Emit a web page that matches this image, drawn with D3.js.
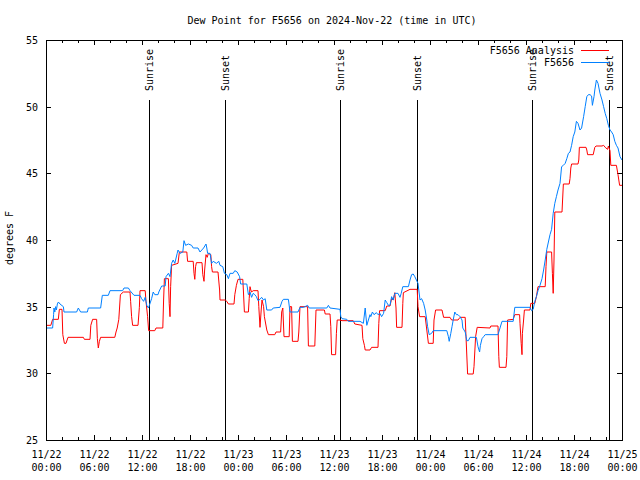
<!DOCTYPE html>
<html>
<head>
<meta charset="utf-8">
<script src="https://cdn.jsdelivr.net/npm/d3@7"></script>
<style>
  html, body { margin: 0; padding: 0; background: #fff; }
  svg { display: block; }
  text { font-family: "DejaVu Sans Mono", monospace; font-size: 10px; fill: #000; }
</style>
</head>
<body>
<svg id="chart" width="640" height="480"></svg>
<script>
// ---------------- data ----------------
const title = "Dew Point for F5656 on 2024-Nov-22 (time in UTC)";
const yLabel = "degrees F";
const seriesNames = ["F5656 Analysis", "F5656"];
const startUTC = Date.UTC(2024, 10, 22, 0, 0);
const spanHours = 72;
const yTickValues = [25, 30, 35, 40, 45, 50, 55];

// hours after 2024-11-22 00:00 UTC
const sunEventHours = [12.92, 22.42, 36.79, 46.42, 60.8, 70.42];
const sunEventNames = ["Sunrise", "Sunset", "Sunrise", "Sunset", "Sunrise", "Sunset"];

// F5656 Analysis (red)
const analysisHours = [0.0,0.6,0.83,1.54,1.67,2.0,2.1,2.3,2.5,2.75,4.67,4.8,5.5,5.6,5.83,6.33,6.42,6.54,6.67,6.83,8.6,8.75,8.9,9.1,9.3,9.67,10.5,10.58,10.7,10.83,11.5,11.67,11.75,12.4,12.5,12.7,12.83,13.6,13.75,14.6,14.7,14.8,15.3,15.4,15.5,15.58,15.7,16.5,16.67,17.6,17.7,18.4,18.5,18.6,18.7,18.8,19.5,19.6,19.75,19.83,20.0,20.15,20.3,20.6,20.7,20.8,21.5,21.7,21.75,22.4,22.6,22.8,23.5,23.6,23.8,24.0,24.6,24.67,24.8,25.3,25.4,25.5,25.6,25.7,25.9,26.5,26.6,26.75,26.9,27.0,27.2,27.3,27.6,27.8,28.6,28.75,29.33,29.46,29.6,29.75,30.4,30.5,30.7,30.8,31.5,31.6,31.75,32.7,32.8,33.6,33.75,34.8,34.9,35.5,35.6,35.7,36.2,36.3,36.4,36.75,37.0,38.4,38.6,39.5,39.6,39.8,39.9,40.5,40.7,41.5,41.6,41.7,42.4,42.6,43.0,43.2,43.4,43.6,43.75,43.83,44.5,44.6,44.67,45.5,46.4,46.5,46.7,47.4,47.6,47.8,48.4,48.5,48.7,49.5,49.7,50.5,50.7,51.5,51.75,52.4,52.5,52.7,53.4,53.5,53.7,53.9,55.5,55.6,56.5,56.6,56.67,57.5,57.6,57.7,58.4,58.6,59.2,59.25,59.4,59.5,59.55,59.7,59.8,60.5,60.6,61.1,61.3,61.5,62.4,62.5,62.6,63.2,63.3,63.4,63.5,63.6,64.5,64.67,65.4,65.5,65.6,65.7,66.5,66.6,66.67,67.5,67.6,67.7,68.4,68.6,68.75,69.5,69.7,69.9,70.2,70.3,70.5,70.6,71.3,71.5,71.7,72.0];
const analysisValues = [33.6,33.6,34.05,34.05,34.8,34.8,32.9,32.25,32.25,32.7,32.7,32.55,32.55,33.6,34.05,34.05,32.6,31.9,32.4,32.7,32.7,33.1,33.4,34.05,35.9,36.1,36.1,35.4,34.25,33.6,33.6,34.95,36.2,36.2,35.4,34.25,33.2,33.2,33.4,33.4,35.5,37.1,37.1,35.25,34.25,36.5,38.1,38.25,39.1,39.1,38.4,38.4,37.5,37.05,38.0,38.3,38.3,37.4,36.9,37.75,38.9,38.7,39.0,38.9,38.0,37.6,37.6,36.25,35.5,35.5,35.4,35.2,35.2,35.9,36.6,37.05,37.05,36.25,34.6,34.6,35.6,36.5,36.25,36.1,36.2,36.2,35.0,33.45,34.75,35.5,35.0,34.25,33.25,32.9,32.9,33.1,33.1,34.6,34.9,32.75,32.75,35.0,35.0,32.4,32.4,33.1,35.0,35.0,32.05,32.05,34.75,34.75,34.45,34.45,33.5,31.4,31.4,33.0,34.0,34.0,33.95,33.95,33.7,33.6,32.6,32.1,31.75,31.75,31.95,31.95,33.75,34.7,34.7,35.05,35.05,35.6,35.5,36.05,34.9,33.45,33.45,35.25,36.05,36.3,36.3,35.0,34.25,34.25,33.25,32.25,32.25,34.0,34.75,34.75,34.2,34.2,34.0,34.0,34.2,34.2,32.75,29.95,29.95,30.5,32.75,33.45,33.4,33.55,33.55,31.25,30.45,30.45,31.25,34.0,34.05,34.4,34.4,33.75,32.25,31.4,33.0,34.0,34.75,34.75,35.25,35.25,35.75,36.5,36.5,38.0,39.1,39.1,37.5,36.0,38.5,42.1,42.1,44.2,44.2,44.6,45.4,45.7,45.7,46.0,46.95,46.95,46.75,46.4,46.4,46.95,47.05,47.05,47.1,46.95,46.8,47.05,46.7,45.6,45.6,44.9,44.1,44.1];

// F5656 observed (blue)
const stationHours = [0.0,0.83,0.95,1.0,1.1,1.2,1.3,1.42,1.55,1.75,2.17,2.25,3.83,4.04,4.33,5.17,5.29,6.83,7.04,7.79,8.0,9.58,9.75,10.3,10.5,11.0,11.75,11.95,12.2,12.4,12.6,12.8,12.92,13.2,13.4,13.6,14.0,14.1,14.46,14.9,15.0,15.3,15.5,15.7,15.9,16.1,16.4,16.5,16.75,17.1,17.25,17.45,17.8,18.2,18.4,19.0,19.25,19.7,20.0,20.1,20.2,20.5,20.7,20.9,21.3,21.6,21.75,22.1,22.3,22.6,22.8,23.0,23.4,23.6,23.9,24.2,24.33,25.1,25.3,25.5,25.7,25.9,26.1,26.3,26.5,26.75,26.95,27.2,27.4,27.6,28.2,28.4,29.25,29.5,29.67,30.3,30.5,31.5,31.75,32.2,32.7,32.9,35.1,35.3,35.5,36.75,36.85,37.0,37.6,37.8,39.25,39.67,39.9,40.1,40.3,40.5,40.6,40.8,41.0,41.3,41.5,41.75,41.95,42.2,42.4,42.6,42.8,43.0,43.2,43.4,43.6,44.0,44.25,44.4,44.6,45.3,45.5,45.7,45.9,46.1,46.3,46.5,46.75,46.95,47.2,47.4,47.6,47.7,47.9,48.2,48.4,50.1,50.3,50.4,50.6,50.75,50.9,51.1,51.3,51.5,51.75,52.0,52.1,52.4,52.6,52.8,53.0,53.8,54.0,54.2,54.3,54.5,54.7,54.9,56.5,56.75,57.0,58.4,58.6,60.5,60.7,60.9,61.1,61.3,61.5,61.75,62.0,62.2,62.4,62.6,62.8,63.0,63.2,63.4,63.6,63.8,64.0,64.25,64.45,64.67,64.9,65.1,65.3,65.5,65.7,65.9,66.1,66.3,66.5,66.75,66.95,67.2,67.4,67.6,67.8,68.0,68.2,68.3,68.5,68.6,68.8,69.0,69.25,69.5,69.7,69.9,70.1,70.3,70.5,70.7,70.9,71.1,71.3,71.5,71.75,72.0];
const stationValues = [33.4,33.4,34.4,34.9,34.6,35.0,34.75,35.2,35.35,35.2,35.0,34.6,34.6,34.9,34.6,34.6,34.9,34.9,35.85,35.85,36.2,36.2,36.4,36.4,36.2,35.85,35.85,35.6,35.4,35.7,35.1,34.9,35.1,35.6,36.1,35.9,35.9,36.1,36.55,36.55,37.25,37.5,37.25,38.25,38.5,38.25,39.0,39.25,39.0,39.1,39.95,39.6,39.7,39.6,39.4,39.4,39.1,39.4,39.7,39.4,39.0,39.0,38.25,38.4,38.25,38.4,38.1,38.0,37.5,37.4,37.1,37.5,37.5,37.7,37.6,37.25,36.7,36.7,35.9,36.1,35.7,36.0,35.9,35.75,35.45,35.55,35.7,35.5,35.6,34.75,34.75,34.9,34.95,35.4,35.55,35.55,34.6,34.6,34.95,34.95,35.1,34.9,34.9,35.1,34.9,34.8,34.25,34.1,34.05,33.9,33.9,33.75,34.9,33.6,34.0,34.4,34.25,34.6,34.4,34.55,34.4,34.5,34.25,34.5,35.5,35.3,35.1,35.1,35.75,35.5,36.0,36.0,35.7,36.0,36.5,36.5,37.0,37.4,37.45,37.25,37.0,36.75,35.5,35.6,35.25,34.75,34.0,33.5,32.9,33.0,33.2,33.2,32.75,32.4,33.0,33.5,34.0,34.6,34.4,34.4,34.25,34.0,33.4,33.1,32.45,32.45,32.7,32.7,32.0,31.6,32.1,32.6,32.75,32.9,32.9,33.4,33.9,33.9,34.95,34.95,34.7,34.8,35.4,35.75,36.2,36.6,37.1,37.75,38.5,39.3,39.85,40.4,40.8,42.0,42.75,43.25,43.75,44.25,45.5,45.6,45.75,46.1,46.5,46.6,47.1,47.75,48.1,48.9,48.75,48.25,48.4,49.25,50.0,50.75,50.9,50.9,50.8,50.1,50.75,51.25,52.0,51.75,51.0,50.5,50.0,49.5,49.1,48.6,48.25,48.1,47.9,47.4,47.1,46.9,46.25,46.0];

// ---------------- chart ----------------
const W = 640, H = 480;
const m = { left: 46, right: 18, top: 40, bottom: 40 };
const iw = W - m.left - m.right, ih = H - m.top - m.bottom;
const colors = ["#ff0000", "#0080ff"];

const svg = d3.select("#chart");
const toDate = h => new Date(startUTC + h * 3600e3);

const x = d3.scaleUtc().domain([toDate(0), toDate(spanHours)]).range([m.left, m.left + iw]);
const y = d3.scaleLinear().domain([25, 55]).range([m.top + ih, m.top]);

// title
svg.append("text").attr("x", 332).attr("y", 24).attr("text-anchor", "middle").text(title);

// y label
svg.append("text").attr("transform", "translate(13,238) rotate(-90)")
  .attr("text-anchor", "middle").text(yLabel);

function styleAxis(g) {
  g.select(".domain").remove();
  g.attr("font-family", null).attr("font-size", null);
  g.selectAll("line").attr("stroke", "#000").attr("shape-rendering", "crispEdges");
}

// x minor ticks bottom + top
const minorTicks = x.ticks(d3.utcHour.every(2));
svg.append("g").attr("transform", `translate(0,${m.top + ih})`)
  .call(d3.axisBottom(x).tickValues(minorTicks).tickSize(-3).tickFormat(""))
  .call(styleAxis);
svg.append("g").attr("transform", `translate(0,${m.top})`)
  .call(d3.axisTop(x).tickValues(minorTicks).tickSize(-3).tickFormat(""))
  .call(styleAxis);

// x major ticks
const fmtDay = d3.utcFormat("%m/%d"), fmtTime = d3.utcFormat("%H:%M");
const xb = svg.append("g").attr("transform", `translate(0,${m.top + ih})`)
  .call(d3.axisBottom(x).ticks(d3.utcHour.every(6)).tickSize(-5).tickPadding(0).tickFormat(""))
  .call(styleAxis);
xb.selectAll(".tick text").each(function (d) {
  const t = d3.select(this).attr("y", null).attr("dy", null).attr("text-anchor", "middle");
  t.append("tspan").attr("x", 0).attr("y", 17.5).text(fmtDay(d));
  t.append("tspan").attr("x", 0).attr("y", 31).text(fmtTime(d));
});
svg.append("g").attr("transform", `translate(0,${m.top})`)
  .call(d3.axisTop(x).ticks(d3.utcHour.every(6)).tickSize(-5).tickFormat(""))
  .call(styleAxis);

// y ticks
svg.append("g").attr("transform", `translate(${m.left},0)`)
  .call(d3.axisLeft(y).tickValues(yTickValues).tickSize(-5).tickPadding(8).tickFormat(d3.format("d")))
  .call(styleAxis)
  .selectAll("text").attr("dy", "0.35em");
svg.append("g").attr("transform", `translate(${m.left + iw},0)`)
  .call(d3.axisRight(y).tickValues(yTickValues).tickSize(-5).tickFormat(""))
  .call(styleAxis);

// sunrise / sunset markers
const sunTop = m.top + ih * 0.15;
const sun = svg.append("g");
sunEventHours.forEach((h, i) => {
  const xx = Math.round(x(toDate(h))) + 0.5;
  sun.append("line").attr("x1", xx).attr("x2", xx).attr("y1", sunTop).attr("y2", m.top + ih)
    .attr("stroke", "#000").attr("stroke-width", 1).attr("shape-rendering", "crispEdges");
  sun.append("text").attr("transform", `translate(${xx + 3.5},${sunTop - 9}) rotate(-90)`)
    .attr("text-anchor", "start").text(sunEventNames[i]);
});

// data lines
const line = d3.line().x(d => x(toDate(d[0]))).y(d => y(d[1]));
const analysisData = analysisHours.map((h, i) => [h, analysisValues[i]]);
const stationData = stationHours.map((h, i) => [h, stationValues[i]]);
[analysisData, stationData].forEach((data, i) => {
  svg.append("path").datum(data).attr("d", line)
    .attr("fill", "none").attr("stroke", colors[i]).attr("stroke-width", 1)
    .attr("stroke-linejoin", "miter");
});

// border
svg.append("rect").attr("x", m.left + 0.5).attr("y", m.top + 0.5)
  .attr("width", iw).attr("height", ih).attr("fill", "none")
  .attr("stroke", "#000").attr("shape-rendering", "crispEdges");

// legend
const leg = svg.append("g");
seriesNames.forEach((name, i) => {
  const ly = 50 + i * 12;
  leg.append("text").attr("x", 574).attr("y", ly + 4).attr("text-anchor", "end").text(name);
  leg.append("line").attr("x1", 581).attr("x2", 609).attr("y1", ly + 0.5).attr("y2", ly + 0.5)
    .attr("stroke", colors[i]).attr("stroke-width", 1).attr("shape-rendering", "crispEdges");
});
</script>
</body>
</html>
